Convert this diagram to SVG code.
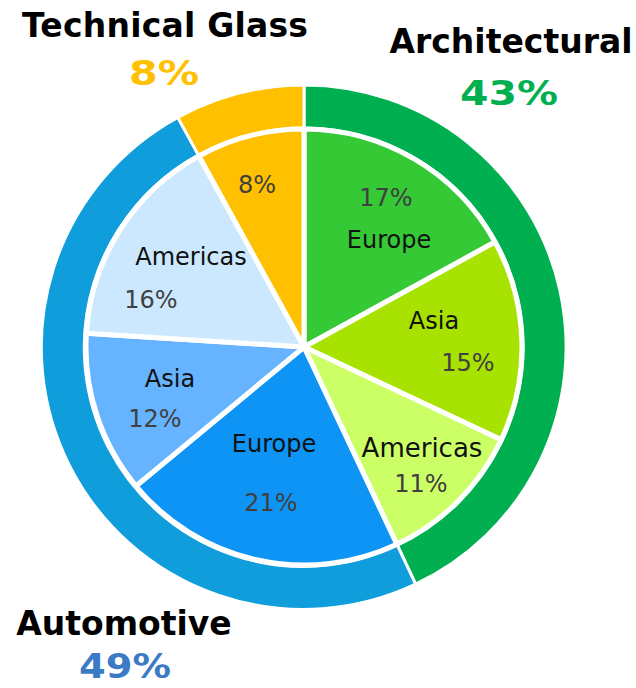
<svg xmlns="http://www.w3.org/2000/svg" width="636" height="688" viewBox="0 0 636 688">
<style>
.ring{stroke:#fff;stroke-width:3;stroke-linejoin:miter}
.wedge{stroke:#fff;stroke-width:5;stroke-linejoin:round}
.title{font-family:"DejaVu Sans",Verdana,sans-serif;font-weight:bold;font-size:33px;fill:#000;text-anchor:middle}
.big{font-family:"DejaVu Sans",Verdana,sans-serif;font-weight:bold;font-size:34px;text-anchor:middle}
.lbl{font-family:"DejaVu Sans",Verdana,sans-serif;font-size:24px;fill:#111;text-anchor:middle}
.pct{font-family:"DejaVu Sans",Verdana,sans-serif;font-size:24px;fill:#404040;text-anchor:middle}
</style>
<rect width="636" height="688" fill="#fff"/>
<g id="ring-architectural">
<path class="ring" fill="#00B050" d="M304 85 A262 262 0 0 1 415.6 584.1 L397.3 545.2 A219 219 0 0 0 304 128 Z"/>
</g>
<g id="ring-automotive">
<path class="ring" fill="#0F9EDB" d="M415.6 584.1 A262 262 0 0 1 177.8 117.4 L198.5 155.1 A219 219 0 0 0 397.3 545.2 Z"/>
</g>
<g id="ring-technical">
<path class="ring" fill="#FFC000" d="M177.8 117.4 A262 262 0 0 1 304 85 L304 128 A219 219 0 0 0 198.5 155.1 Z"/>
</g>
<g id="arch-europe">
<path class="wedge" fill="#35C935" d="M304 347 L304 129 A218 218 0 0 1 495 242 Z"/>
<text class="pct" x="386" y="206">17%</text>
<text class="lbl" x="389" y="248">Europe</text>
</g>
<g id="arch-asia">
<path class="wedge" fill="#A8E200" d="M304 347 L495 242 A218 218 0 0 1 501.2 439.8 Z"/>
<text class="lbl" x="434" y="329">Asia</text>
<text class="pct" x="468" y="371">15%</text>
</g>
<g id="arch-americas">
<path class="wedge" fill="#CCFF66" d="M304 347 L501.2 439.8 A218 218 0 0 1 396.8 544.3 Z"/>
<text class="lbl" x="422" y="457" style="font-size:26px">Americas</text>
<text class="pct" x="421" y="492">11%</text>
</g>
<g id="auto-europe">
<path class="wedge" fill="#0D94F4" d="M304 347 L396.8 544.3 A218 218 0 0 1 136 486 Z"/>
<text class="lbl" x="274" y="452">Europe</text>
<text class="pct" x="271" y="511">21%</text>
</g>
<g id="auto-asia">
<path class="wedge" fill="#66B3FF" d="M304 347 L136 486 A218 218 0 0 1 86.4 333.3 Z"/>
<text class="lbl" x="170" y="387">Asia</text>
<text class="pct" x="155" y="427">12%</text>
</g>
<g id="auto-americas">
<path class="wedge" fill="#CCE8FF" d="M304 347 L86.4 333.3 A218 218 0 0 1 199 156 Z"/>
<text class="lbl" x="191" y="265">Americas</text>
<text class="pct" x="151" y="308">16%</text>
</g>
<g id="technical-glass">
<path class="wedge" fill="#FFC000" d="M304 347 L199 156 A218 218 0 0 1 304 129 Z"/>
<text class="pct" x="257" y="193">8%</text>
</g>
<g id="label-technical">
<text class="title" x="165" y="37" textLength="286" lengthAdjust="spacing">Technical Glass</text>
<text class="big" x="164" y="85" fill="#FFC000" textLength="70" lengthAdjust="spacingAndGlyphs">8%</text>
</g>
<g id="label-architectural">
<text class="title" x="511" y="53">Architectural</text>
<text class="big" x="509" y="105" fill="#00B050" textLength="98" lengthAdjust="spacingAndGlyphs">43%</text>
</g>
<g id="label-automotive">
<text class="title" x="124" y="635">Automotive</text>
<text class="big" x="125" y="678" fill="#3B7BC5" textLength="92" lengthAdjust="spacingAndGlyphs">49%</text>
</g>
</svg>
